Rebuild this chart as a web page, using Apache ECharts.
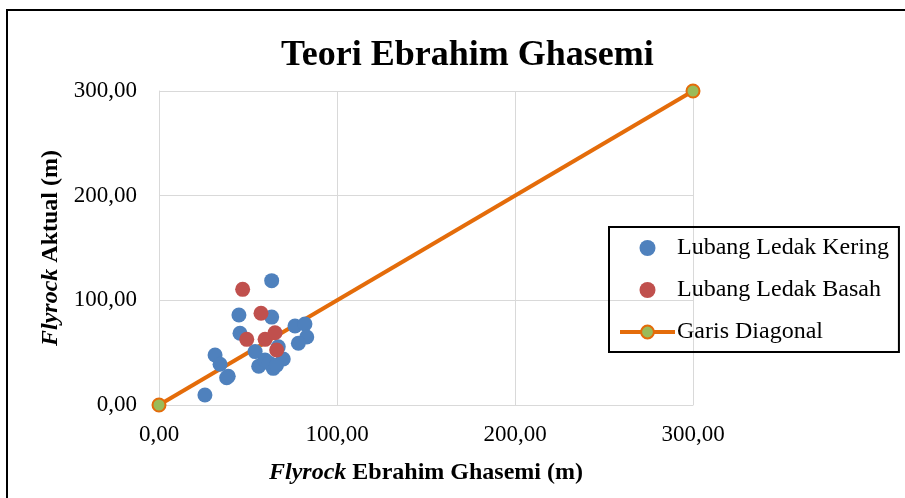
<!DOCTYPE html>
<html>
<head>
<meta charset="utf-8">
<script src="https://cdn.jsdelivr.net/npm/echarts@6/dist/echarts.min.js"></script>
<style>
  html, body { margin: 0; padding: 0; background: #fff; }
  #chart { width: 905px; height: 498px; }
</style>
</head>
<body>
<div id="chart"></div>
<script>
// Lubang Ledak Kering: [Flyrock Ebrahim Ghasemi, Flyrock Aktual]
const keringX = [63.3, 44.9, 63.3, 76.4, 82.0, 45.5, 83.0, 78.3, 54.0, 67.0, 69.8, 56.0, 64.2, 59.6, 31.5, 34.3, 38.9, 38.0, 25.8, 62.0, 66.0];
const keringY = [118.8, 86.0, 84.0, 75.5, 77.4, 68.5, 65.0, 59.0, 51.0, 55.7, 44.0, 37.0, 35.0, 43.0, 47.8, 39.0, 27.5, 26.0, 9.6, 40.0, 38.0];
// Lubang Ledak Basah
const basahX = [47.0, 57.3, 49.3, 59.6, 65.2, 66.1];
const basahY = [110.5, 87.6, 62.7, 62.7, 69.0, 52.5];
// Garis Diagonal
const diagX = [0, 300];
const diagY = [0, 300];

const seriesNames = ['Lubang Ledak Kering', 'Lubang Ledak Basah', 'Garis Diagonal'];
const axisTicks = [0, 100, 200, 300];

const font = "'Liberation Serif', 'Times New Roman', serif";
const pair = (xs, ys) => xs.map((x, i) => [x, ys[i]]);
const fmt = v => v.toFixed(2).replace('.', ',');

const chart = echarts.init(document.getElementById('chart'));
const option = {
  backgroundColor: '#fff',
  animation: false,
  title: {
    text: 'Teori Ebrahim Ghasemi',
    left: 276,
    top: 33,
    textStyle: { fontFamily: font, fontSize: 36, fontWeight: 'bold', color: '#000' }
  },
  graphic: [{
    type: 'rect',
    shape: { x: 7, y: 10, width: 1000, height: 1000 },
    style: { fill: 'none', stroke: '#000', lineWidth: 2 },
    silent: true
  }],
  grid: { left: 159, right: 212, top: 91, bottom: 93 },
  legend: {
    data: [
      { name: seriesNames[0] },
      { name: seriesNames[1] },
      { name: seriesNames[2], lineStyle: { width: 4, color: '#e46c0a' } }
    ],
    orient: 'vertical',
    left: 609,
    top: 227,
    padding: [8, 10, 7, 9],
    itemGap: 16,
    itemWidth: 55,
    itemHeight: 16,
    borderColor: '#000',
    borderWidth: 2,
    textStyle: { fontFamily: font, fontSize: 24, color: '#000', lineHeight: 26, padding: [0, 0, 0, -3] }
  },
  xAxis: {
    type: 'value',
    min: axisTicks[0],
    max: axisTicks[axisTicks.length - 1],
    interval: 100,
    name: '{i|Flyrock} Ebrahim Ghasemi (m)',
    nameLocation: 'middle',
    nameGap: 56,
    nameTextStyle: {
      fontFamily: font, fontSize: 24, fontWeight: 'bold', color: '#000',
      rich: { i: { fontFamily: font, fontSize: 24, fontWeight: 'bold', fontStyle: 'italic', color: '#000' } }
    },
    axisLine: { show: true, lineStyle: { color: '#d9d9d9', width: 1 } },
    axisTick: { show: false },
    splitLine: { show: true, lineStyle: { color: '#d9d9d9', width: 1 } },
    axisLabel: { fontFamily: font, fontSize: 23, color: '#000', margin: 18, formatter: fmt }
  },
  yAxis: {
    type: 'value',
    min: axisTicks[0],
    max: axisTicks[axisTicks.length - 1],
    interval: 100,
    name: '{i|Flyrock} Aktual (m)',
    nameLocation: 'middle',
    nameGap: 95,
    nameTextStyle: {
      fontFamily: font, fontSize: 24, fontWeight: 'bold', color: '#000',
      rich: { i: { fontFamily: font, fontSize: 24, fontWeight: 'bold', fontStyle: 'italic', color: '#000' } }
    },
    axisLine: { show: true, lineStyle: { color: '#d9d9d9', width: 1 } },
    axisTick: { show: false },
    splitLine: { show: true, lineStyle: { color: '#d9d9d9', width: 1 } },
    axisLabel: { fontFamily: font, fontSize: 23, color: '#000', margin: 22, formatter: fmt }
  },
  series: [
    {
      name: seriesNames[2],
      type: 'line',
      z: 1,
      data: pair(diagX, diagY),
      symbol: 'circle',
      symbolSize: 13,
      lineStyle: { color: '#e46c0a', width: 4 },
      itemStyle: { color: '#9bbb59', borderColor: '#e46c0a', borderWidth: 2 }
    },
    {
      name: seriesNames[0],
      type: 'scatter',
      z: 3,
      data: pair(keringX, keringY),
      symbolSize: 15,
      itemStyle: { color: '#4f81bd', opacity: 1 }
    },
    {
      name: seriesNames[1],
      type: 'scatter',
      z: 4,
      data: pair(basahX, basahY),
      symbolSize: 15,
      itemStyle: { color: '#c0504d', opacity: 1 }
    }
  ]
};
chart.setOption(option);
</script>
</body>
</html>
